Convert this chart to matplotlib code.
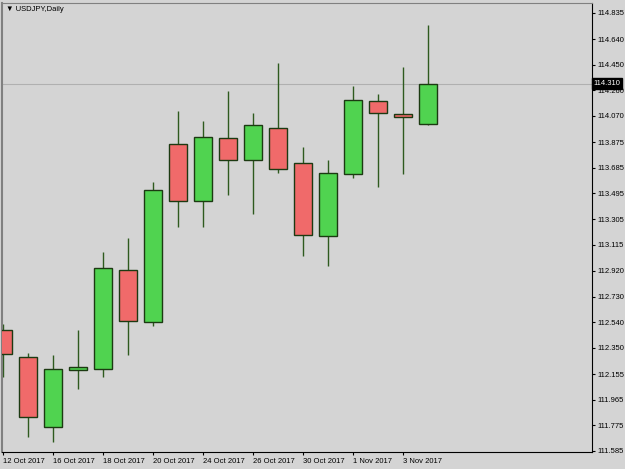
import numpy as np
import matplotlib.pyplot as plt
import matplotlib.transforms as mtransforms

# daily USDJPY candles
dates = ['12 Oct', '13 Oct', '16 Oct', '17 Oct', '18 Oct', '19 Oct', '20 Oct',
         '23 Oct', '24 Oct', '25 Oct', '26 Oct', '27 Oct', '30 Oct', '31 Oct',
         '1 Nov', '2 Nov', '3 Nov', '6 Nov']
opens = [112.482, 112.284, 111.765, 112.186, 112.191, 112.927, 112.539,
         113.859, 113.437, 113.906, 113.745, 113.978, 113.723, 113.176,
         113.637, 114.180, 114.082, 114.012]
highs = [112.527, 112.309, 112.297, 112.482, 113.058, 113.162, 113.582,
         114.106, 114.032, 114.254, 114.089, 114.464, 113.841, 113.743,
         114.291, 114.230, 114.435, 114.744]
lows = [112.136, 111.691, 111.654, 112.043, 112.136, 112.297, 112.514,
        113.248, 113.248, 113.483, 113.342, 113.644, 113.031, 112.959,
        113.612, 113.540, 113.637, 114.002]
closes = [112.302, 111.839, 112.191, 112.206, 112.940, 112.551, 113.520,
          113.437, 113.911, 113.745, 114.000, 113.674, 113.183, 113.646,
          114.188, 114.093, 114.064, 114.310]
last_price = 114.310
price_ticks = [114.835, 114.640, 114.450, 114.260, 114.070, 113.875, 113.685,
               113.495, 113.305, 113.115, 112.920, 112.730, 112.540, 112.350,
               112.155, 111.965, 111.775, 111.585]

bg = '#d4d4d4'
up_col = '#50d350'
down_col = '#f06a6a'
edge = '#1c3a12'
wick = '#2e5a1e'
font = ['Liberation Sans', 'DejaVu Sans']

fig = plt.figure(figsize=(6.25, 4.69), dpi=100, facecolor=bg)
ax = fig.add_axes([0.0032, 0.0356, 0.9435, 0.958])
ax.set_facecolor(bg)

x = np.arange(len(dates))
o = np.array(opens)
c = np.array(closes)
body_lo = np.minimum(o, c)
body_h = np.maximum(np.abs(c - o), 0.004)
cols = [up_col if cc >= oo else down_col for oo, cc in zip(o, c)]

ax.vlines(x, lows, highs, color=wick, linewidth=1.0, zorder=2)
ax.bar(x, body_h, bottom=body_lo, width=0.74, color=cols, edgecolor=edge,
       linewidth=1.0, zorder=3)

# current price line
ax.axhline(last_price, color='#b0b0b0', linewidth=0.8, zorder=1)
trans = mtransforms.blended_transform_factory(ax.transAxes, ax.transData)
ax.text(1.003, last_price, '114.310', transform=trans, ha='left', va='center',
        fontsize=5.5, family=font, color='white', clip_on=False,
        bbox=dict(boxstyle='square,pad=0.25', facecolor='black', edgecolor='black'))

ax.set_xlim(-0.04, 23.55)
ax.set_ylim(111.575, 114.907)

ax.yaxis.tick_right()
ax.set_yticks(price_ticks)
ax.set_yticklabels([f'{v:.3f}' for v in price_ticks], fontsize=5.5, family=font)
ax.tick_params(axis='y', direction='out', length=2.5, width=0.8, pad=1.5, colors='black')

tick_idx = x[::2][:9]
ax.set_xticks(tick_idx)
ax.set_xticklabels([dates[i] + ' 2017' for i in tick_idx], fontsize=5.5, family=font, ha='left')
ax.tick_params(axis='x', direction='out', length=2.5, width=0.8, pad=1.5, colors='black')

for s in ['left', 'top']:
    ax.spines[s].set_color('#808080')
ax.spines['left'].set_linewidth(1.5)
ax.spines['top'].set_linewidth(0.8)
ax.spines['right'].set_color('black')
ax.spines['bottom'].set_color('black')

# symbol header
ax.text(0.006, 0.986, '\u25bc USDJPY,Daily', transform=ax.transAxes, ha='left', va='center',
        fontsize=5.5, family=font, color='black')

fig.savefig('out.png', dpi=100, facecolor=bg)
